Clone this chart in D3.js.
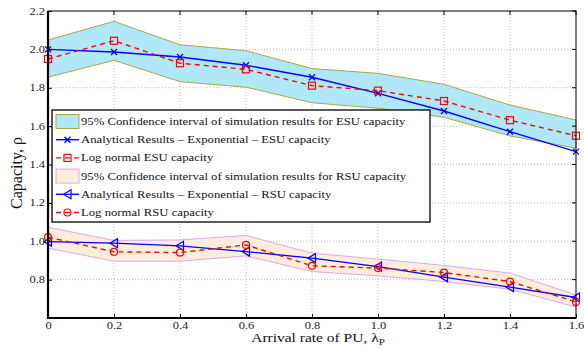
<!DOCTYPE html>
<html>
<head>
<meta charset="utf-8">
<script src="https://cdn.jsdelivr.net/npm/d3@7"></script>
<style>
  body { margin: 0; background: #fff; }
  text { font-family: "Liberation Serif", "Times New Roman", serif; }
  .sq { transform-box: fill-box; transform-origin: center; transform: scaleY(0.8); }
</style>
</head>
<body>
<div id="chart"></div>
<script>
// arrival rate of PU
const lambdaP = [0, 0.2, 0.4, 0.6, 0.8, 1.0, 1.2, 1.4, 1.6];

// ESU capacity
const esuAnalytic = [2.0, 1.986, 1.96, 1.917, 1.855, 1.771, 1.679, 1.571, 1.467];
const esuLogNormal = [1.95, 2.045, 1.928, 1.896, 1.811, 1.785, 1.731, 1.631, 1.55];
const esuCiUpper = [2.049, 2.146, 2.024, 1.993, 1.90, 1.875, 1.818, 1.71, 1.632];
const esuCiLower = [1.855, 1.943, 1.832, 1.803, 1.722, 1.693, 1.646, 1.549, 1.485];

// RSU capacity
const rsuAnalytic = [0.998, 0.99, 0.976, 0.946, 0.912, 0.868, 0.813, 0.761, 0.707];
const rsuLogNormal = [1.021, 0.945, 0.941, 0.981, 0.872, 0.86, 0.837, 0.79, 0.684];
const rsuCiUpper = [1.073, 1.004, 1.007, 1.03, 0.938, 0.907, 0.874, 0.834, 0.72];
const rsuCiLower = [0.964, 0.896, 0.896, 0.924, 0.842, 0.82, 0.79, 0.75, 0.657];

const xTicks = [0, 0.2, 0.4, 0.6, 0.8, 1.0, 1.2, 1.4, 1.6];
const yTicks = [0.8, 1.0, 1.2, 1.4, 1.6, 1.8, 2.0, 2.2];

const legendLabels = [
  "95% Confidence interval of simulation results for ESU capacity",
  "Analytical Results \u2013 Exponential \u2013 ESU capacity",
  "Log normal ESU capacity",
  "95% Confidence interval  of simulation results for RSU capacity",
  "Analytical Results \u2013 Exponential \u2013 RSU capacity",
  "Log normal RSU capacity"
];

const W = 584, H = 350;
const margin = { top: 11, right: 8, bottom: 32, left: 48 };
const serif = '"Liberation Serif", "Times New Roman", serif';

const svg = d3.select('#chart').append('svg')
  .attr('width', W)
  .attr('height', H);

const x = d3.scaleLinear().domain([0, 1.6]).range([margin.left, W - margin.right]);
const y = d3.scaleLinear().domain([0.6, 2.2]).range([H - margin.bottom, margin.top]);

const esuFill = "#b0e8f8", esuEdge = "#a8a848";
const rsuFill = "#fdeedb", rsuEdge = "#d8a8f0";

// grid
const grid = svg.append('g').attr('class', 'grid');
grid.selectAll('line.gx').data(xTicks.slice(1, -1)).enter().append('line')
  .attr('x1', d => x(d)).attr('x2', d => x(d))
  .attr('y1', y(0.6)).attr('y2', y(2.2))
  .attr('stroke', '#bbb').attr('stroke-dasharray', '1,2');
grid.selectAll('line.gy').data(yTicks.slice(0, -1)).enter().append('line')
  .attr('x1', x(0)).attr('x2', x(1.6))
  .attr('y1', d => y(d)).attr('y2', d => y(d))
  .attr('stroke', '#bbb').attr('stroke-dasharray', '1,2');

// confidence bands
const band = d3.area()
  .x((d, i) => x(lambdaP[i]))
  .y0(d => y(d[0]))
  .y1(d => y(d[1]));

svg.append('path')
  .datum(esuCiLower.map((v, i) => [v, esuCiUpper[i]]))
  .attr('d', band)
  .attr('fill', esuFill)
  .attr('stroke', esuEdge).attr('stroke-width', 1);

svg.append('path')
  .datum(rsuCiLower.map((v, i) => [v, rsuCiUpper[i]]))
  .attr('d', band)
  .attr('fill', rsuFill)
  .attr('stroke', rsuEdge).attr('stroke-width', 1);

// lines
const line = d3.line().x((d, i) => x(lambdaP[i])).y(d => y(d));

function drawSeries(values, color, dashed, marker) {
  svg.append('path').datum(values)
    .attr('d', line)
    .attr('fill', 'none')
    .attr('stroke', color)
    .attr('stroke-width', 1.4)
    .attr('stroke-dasharray', dashed ? '5,4' : null);
  const g = svg.append('g');
  values.forEach((v, i) => drawMarker(g, x(lambdaP[i]), y(v), color, marker));
}

function drawMarker(g, cx, cy, color, marker) {
  if (marker === 'x') {
    g.append('path')
      .attr('d', `M${cx - 3},${cy - 3}L${cx + 3},${cy + 3}M${cx - 3},${cy + 3}L${cx + 3},${cy - 3}`)
      .attr('stroke', color).attr('stroke-width', 1.3);
  } else if (marker === 'square') {
    g.append('rect')
      .attr('x', cx - 3.5).attr('y', cy - 3.5).attr('width', 7).attr('height', 7)
      .attr('fill', 'none').attr('stroke', color).attr('stroke-width', 1.2);
  } else if (marker === 'tri') {
    g.append('path')
      .attr('d', `M${cx - 4},${cy}L${cx + 3.5},${cy - 4.5}L${cx + 3.5},${cy + 4.5}Z`)
      .attr('fill', 'none').attr('stroke', color).attr('stroke-width', 1.2);
  } else if (marker === 'circle') {
    g.append('circle')
      .attr('cx', cx).attr('cy', cy).attr('r', 3.5)
      .attr('fill', 'none').attr('stroke', color).attr('stroke-width', 1.2);
  }
}

drawSeries(esuAnalytic, '#0000ff', false, 'x');
drawSeries(esuLogNormal, '#ff0000', true, 'square');
drawSeries(rsuAnalytic, '#0000ff', false, 'tri');
drawSeries(rsuLogNormal, '#ff0000', true, 'circle');

// axes box
const xAxis = d3.axisBottom(x).tickValues(xTicks).tickSizeInner(-4).tickSizeOuter(0).tickPadding(3.5)
  .tickFormat(d => d === 0 ? "0" : d3.format(".1f")(d));
const yAxis = d3.axisLeft(y).tickValues(yTicks).tickSizeInner(-4).tickSizeOuter(0).tickPadding(3)
  .tickFormat(d3.format(".1f"));

const gx = svg.append('g').attr('transform', `translate(0,${y(0.6)})`).call(xAxis);
const gy = svg.append('g').attr('transform', `translate(${x(0)},0)`).call(yAxis);
[gx, gy].forEach(g => {
  g.attr('font-family', serif);
  g.selectAll('text').attr('class', 'sq')
    .style('font-family', serif).style('font-size', '12.5px').attr('fill', '#222');
  g.select('.domain').remove();
  g.selectAll('.tick line').attr('stroke', '#000');
});

// top and right ticks
svg.append('g').selectAll('line').data(xTicks).enter().append('line')
  .attr('x1', d => x(d)).attr('x2', d => x(d))
  .attr('y1', y(2.2)).attr('y2', y(2.2) + 4).attr('stroke', '#000');
svg.append('g').selectAll('line').data(yTicks).enter().append('line')
  .attr('x1', x(1.6)).attr('x2', x(1.6) - 4)
  .attr('y1', d => y(d)).attr('y2', d => y(d)).attr('stroke', '#000');

svg.append('rect')
  .attr('x', x(0)).attr('y', y(2.2))
  .attr('width', x(1.6) - x(0)).attr('height', y(0.6) - y(2.2))
  .attr('fill', 'none').attr('stroke', '#000').attr('stroke-width', 1);
svg.append('line')
  .attr('x1', x(0)).attr('x2', x(0)).attr('y1', y(2.2)).attr('y2', y(0.6) + 1)
  .attr('stroke', '#000').attr('stroke-width', 2.2);
svg.append('line')
  .attr('x1', x(0) - 1).attr('x2', x(1.6)).attr('y1', y(0.6)).attr('y2', y(0.6))
  .attr('stroke', '#000').attr('stroke-width', 2.2);

// axis titles
const xt = svg.append('text')
  .attr('class', 'sq')
  .attr('x', 318).attr('y', 343)
  .attr('text-anchor', 'middle')
  .style('font-size', '15.5px').attr('fill', '#111');
xt.append('tspan').text('Arrival rate of PU,  \u03bb');
xt.append('tspan').attr('dy', 4).style('font-size', '11px').text('P');

svg.append('text')
  .attr('transform', `translate(22,173) rotate(-90)`)
  .attr('text-anchor', 'middle')
  .style('font-size', '16px').attr('fill', '#111')
  .text('Capacity,  \u03c1');

// legend
const lg = svg.append('g');
lg.append('rect')
  .attr('x', 52).attr('y', 110).attr('width', 378).attr('height', 112)
  .attr('fill', '#fff').attr('stroke', '#000').attr('stroke-width', 1.3);

const rowY = d3.range(6).map(i => 121.5 + i * 18.2);
const patches = [[esuFill, esuEdge], null, null, [rsuFill, rsuEdge], null, null];
const lineStyles = [null, ['#0000ff', false, 'x'], ['#ff0000', true, 'square'],
  null, ['#0000ff', false, 'tri'], ['#ff0000', true, 'circle']];

legendLabels.forEach((lab, i) => {
  const cy = rowY[i];
  if (patches[i]) {
    lg.append('rect')
      .attr('x', 56).attr('y', cy - 7).attr('width', 23).attr('height', 14)
      .attr('fill', patches[i][0]).attr('stroke', patches[i][1]).attr('stroke-width', 1);
  } else {
    const [c, dashed, m] = lineStyles[i];
    lg.append('line')
      .attr('x1', 56).attr('x2', 79).attr('y1', cy).attr('y2', cy)
      .attr('stroke', c).attr('stroke-width', 1.4)
      .attr('stroke-dasharray', dashed ? '5,4' : null);
    drawMarker(lg, 67.5, cy, c, m);
  }
  lg.append('text')
    .attr('class', 'sq')
    .attr('x', 81).attr('y', cy + 4.3)
    .style('font-size', '12.7px').attr('fill', '#111')
    .text(lab);
});
</script>
</body>
</html>
